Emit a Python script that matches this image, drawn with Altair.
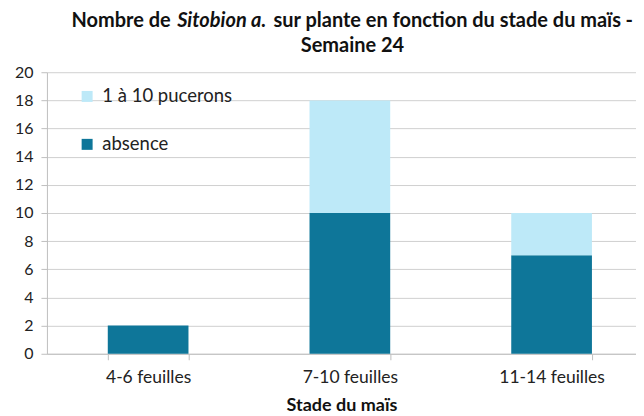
import altair as alt
import pandas as pd

categories = ["4-6 feuilles", "7-10 feuilles", "11-14 feuilles"]
absence = [2, 10, 7]
pucerons = [0, 8, 3]
series = ["1 à 10 pucerons", "absence"]
colors = ["#BDE9F8", "#0E7699"]
title_parts = ["Nombre de", "Sitobion a.", "sur plante en fonction du stade du maïs", "-"]
title_line2 = ["Semaine 24"]
x_title = "Stade du maïs"

rows = []
for c, a, p in zip(categories, absence, pucerons):
    rows.append({"stade": c, "serie": "absence", "n": a, "ordre": 0})
    rows.append({"stade": c, "serie": "1 à 10 pucerons", "n": p, "ordre": 1})
df = pd.DataFrame(rows)

FONT = "Lato"
TSIZE = 20

bars = alt.Chart(df).mark_bar().encode(
    x=alt.X("stade:N", sort=categories,
            scale=alt.Scale(paddingInner=0.6, paddingOuter=0.26, align=0.58),
            axis=alt.Axis(title=x_title, labelAngle=0, tickBand="extent",
                          labelFontSize=17.5, titleFontSize=18, labelPadding=9,
                          titlePadding=10, domainColor="#BFBFBF", tickColor="#BFBFBF",
                          tickSize=6, labelColor="#222", titleColor="#111")),
    y=alt.Y("n:Q", stack="zero", scale=alt.Scale(domain=[0, 20]),
            axis=alt.Axis(title=None, values=list(range(0, 21, 2)), labelOverlap=False,
                          labelFontSize=16, labelPadding=8, tickSize=6,
                          domainColor="#BFBFBF", tickColor="#BFBFBF",
                          gridColor="#D0D0D0", labelColor="#222")),
    color=alt.Color("serie:N", scale=alt.Scale(domain=series, range=colors),
                    legend=alt.Legend(title=None, orient="none", legendX=31, legendY=15,
                                      symbolType="square", symbolSize=121,
                                      symbolStrokeWidth=0, labelFontSize=18.5,
                                      labelOffset=6, rowPadding=29, labelColor="#222")),
    order=alt.Order("ordre:Q"),
)

def ttext(txt, x, y, align, italic=False):
    kw = dict(font=FONT, fontSize=TSIZE, fontWeight="bold", align=align,
              baseline="alphabetic", color="#111")
    if italic:
        kw["fontStyle"] = "italic"
    return alt.Chart(pd.DataFrame({"t": [txt]})).mark_text(**kw).encode(
        text="t:N", x=alt.value(x), y=alt.value(y))

t1 = ttext(title_parts[0], 124, -45, "right")
t2 = ttext(title_parts[1], 175, -45, "center", italic=True)
t3 = ttext(title_parts[2], 227, -45, "left")
t3b = ttext(title_parts[3], 587, -45, "right")
t4 = ttext(title_line2[0], 306, -20, "center")

chart = alt.layer(bars, t1, t2, t3, t3b, t4).properties(
    width=590, height=282,
    padding={"left": 6, "right": 0, "top": 3, "bottom": 0},
).configure(font=FONT).configure_view(stroke=None)

chart.save("out.html", embed_options={"renderer": "svg", "actions": False})
